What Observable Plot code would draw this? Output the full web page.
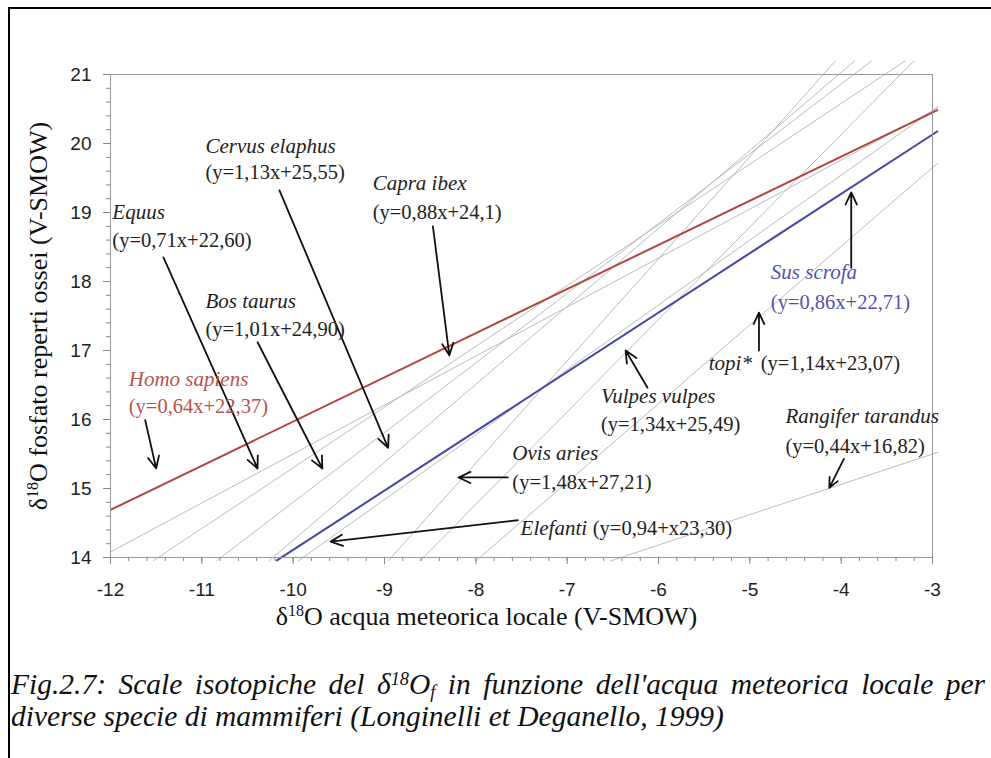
<!DOCTYPE html>
<html><head><meta charset="utf-8">
<script src="https://cdn.jsdelivr.net/npm/d3@7"></script>
<script src="https://cdn.jsdelivr.net/npm/@observablehq/plot@0.6"></script>
<style>
html,body{margin:0;padding:0;background:#fff;overflow:hidden;width:991px;height:758px;}
#page{position:relative;width:991px;height:758px;overflow:hidden;}
#border{position:absolute;left:8px;top:7px;width:1200px;height:900px;border-top:2px solid #000;border-left:2px solid #000;}
#chart{position:absolute;left:0;top:0;}
.cap{position:absolute;left:11px;font-family:"Liberation Serif","Times New Roman",serif;font-style:italic;font-size:29.5px;line-height:32px;color:#111;white-space:nowrap;}
.cap sup{font-size:0.62em;vertical-align:0.5em;line-height:0;}
.cap sub{font-size:0.62em;vertical-align:-0.2em;line-height:0;}
#cap1{top:668px;width:974px;text-align:justify;text-align-last:justify;}
#cap2{top:700px;}
</style></head>
<body><div id="page"><div id="border"></div><div id="chart"></div>
<div id="cap1" class="cap">Fig.2.7: Scale isotopiche del δ<sup>18</sup>O<sub>f</sub> in funzione dell'acqua meteorica locale per</div>
<div id="cap2" class="cap">diverse specie di mammiferi (Longinelli et Deganello, 1999)</div>
</div>
<script>
// ---- data ----
const species = ["Homo sapiens","Equus","Bos taurus","Cervus elaphus","Capra ibex","Sus scrofa","Ovis aries","Vulpes vulpes","Elefanti","topi*","Rangifer tarandus"];
const slopes = [0.64, 0.71, 1.01, 1.13, 0.88, 0.86, 1.48, 1.34, 0.94, 1.14, 0.44];
const intercepts = [22.37, 22.60, 24.90, 25.55, 24.1, 22.71, 27.21, 25.49, 23.30, 23.07, 16.82];
const equations = ["(y=0,64x+22,37)","(y=0,71x+22,60)","(y=1,01x+24,90)","(y=1,13x+25,55)","(y=0,88x+24,1)","(y=0,86x+22,71)","(y=1,48x+27,21)","(y=1,34x+25,49)","(y=0,94+x23,30)","(y=1,14x+23,07)","(y=0,44x+16,82)"];
const xTicks = [-12,-11,-10,-9,-8,-7,-6,-5,-4,-3];
const yTicks = [14,15,16,17,18,19,20,21];
const xLabel = "δ18O acqua meteorica locale (V-SMOW)";
const yLabel = "δ18O fosfato reperti ossei (V-SMOW)";

// annotation anchors (data units)
const nameX = [-11.80,-11.98,-10.96,-10.96,-9.13,-4.77,-7.60,-6.63,-7.51,-5.45,-4.61];
const nameY = [16.59, 19.00, 17.71, 19.96, 19.42, 18.13, 15.51, 16.33, 14.42, 16.81, 16.04];
const eqX   = [-11.80,-11.98,-10.96,-10.96,-9.13,-4.77,-7.60,-6.63,-6.72,-4.88,-4.61];
const eqY   = [16.19, 18.59, 17.30, 19.58, 19.00, 17.70, 15.09, 15.93, 14.42, 16.81, 15.61];
const arrowX1 = [-11.62,-11.42,-10.39,-10.15,-8.47,-3.89,-7.65,-6.12,-7.54,-4.90,-3.97];
const arrowY1 = [15.99, 18.35, 17.12, 19.32, 18.80, 18.20, 15.16, 16.46, 14.54, 17.00, 15.43];
const arrowX2 = [-11.50,-10.39,-9.68,-8.96,-8.29,-3.89,-8.19,-6.36,-9.59,-4.90,-4.13];
const arrowY2 = [15.29, 15.29, 15.29, 15.59, 16.93, 19.29, 15.16, 17.00, 14.23, 17.55, 15.01];

// ---- derived ----
const Y_MIN = 13.95, Y_MAX = 21.2, X_MIN = -12, X_MAX = -2.94;
const lines = species.map((s, i) => {
  const a = slopes[i], b = intercepts[i];
  const x1 = Math.max(X_MIN, (Y_MIN - b) / a);
  const x2 = Math.min(X_MAX, (Y_MAX - b) / a);
  return {s, x1, y1: a * x1 + b, x2, y2: a * x2 + b};
});
const RED = "#b3453b", BLUE = "#4545a6";
const gray = lines.filter(d => d.s !== "Homo sapiens" && d.s !== "Sus scrofa");
const red = lines.filter(d => d.s === "Homo sapiens");
const blue = lines.filter(d => d.s === "Sus scrofa");
const idx = species.map((_, i) => i);
const labelColor = i => species[i] === "Homo sapiens" ? "#b9524a" : species[i] === "Sus scrofa" ? "#5252ae" : "#222";
const minorX = d3.range(0, 46).map(i => -12 + i * 0.2);
const minorY = d3.range(0, 36).map(i => 14 + i * 0.2);
const SERIF = "Liberation Serif, Times New Roman, serif";

const chart = Plot.plot({
  width: 991, height: 640,
  marginLeft: 110, marginRight: 59, marginTop: 74, marginBottom: 83,
  x: {domain: [-12, -3], label: null},
  y: {domain: [14, 21], label: null},
  color: {type: "identity"},
  style: {background: "transparent", fontFamily: "Liberation Sans, Arial, sans-serif", overflow: "visible"},
  marks: [
    Plot.link(gray, {x1: "x1", y1: "y1", x2: "x2", y2: "y2", stroke: "#bcbcbc", strokeWidth: 1}),
    Plot.link(red, {x1: "x1", y1: "y1", x2: "x2", y2: "y2", stroke: RED, strokeWidth: 2}),
    Plot.link(blue, {x1: "x1", y1: "y1", x2: "x2", y2: "y2", stroke: BLUE, strokeWidth: 2}),
    Plot.frame({stroke: "#9a9a9a"}),
    Plot.axisX(minorX, {tickSize: 4, tickFormat: () => "", stroke: "#888", label: null}),
    Plot.axisX(xTicks, {tickSize: 7, tickPadding: 18, tickFormat: d => String(d), fontSize: 19, fill: "#222", stroke: "#888", label: null}),
    Plot.axisY(minorY, {tickSize: 4, tickFormat: () => "", stroke: "#888", label: null}),
    Plot.axisY(yTicks, {tickSize: 7, tickPadding: 12, tickFormat: d => String(d), fontSize: 19, fill: "#222", stroke: "#888", label: null}),
    Plot.arrow(idx, {x1: i => arrowX1[i], y1: i => arrowY1[i], x2: i => arrowX2[i], y2: i => arrowY2[i], stroke: "#111", strokeWidth: 1.8, headLength: 11, headAngle: 50}),
    Plot.text(idx, {x: i => nameX[i], y: i => nameY[i], text: i => species[i], textAnchor: "start", fontStyle: "italic", fontSize: 21, fontFamily: SERIF, fill: labelColor}),
    Plot.text(idx, {x: i => eqX[i], y: i => eqY[i], text: i => equations[i], textAnchor: "start", fontSize: 20.5, fontFamily: SERIF, fill: labelColor}),
    Plot.text([xLabel], {text: d => d, frameAnchor: "bottom", textAnchor: "middle", dx: -35, dy: 67, fontSize: 26, fontFamily: SERIF, fill: "#111"}),
    Plot.text([yLabel], {text: d => d, frameAnchor: "left", textAnchor: "middle", lineAnchor: "middle", dx: -72, rotate: -90, fontSize: 26, fontFamily: SERIF, fill: "#111"})
  ]
});

// superscript "18" in axis labels
const NS = "http://www.w3.org/2000/svg";
chart.querySelectorAll("text").forEach(t => {
  const s = t.textContent;
  if (s.startsWith("δ18O")) {
    t.textContent = "";
    const a = document.createElementNS(NS, "tspan"); a.textContent = "δ";
    const b = document.createElementNS(NS, "tspan"); b.textContent = "18";
    b.setAttribute("font-size", "16"); b.setAttribute("dy", "-9");
    const c = document.createElementNS(NS, "tspan"); c.textContent = s.slice(3);
    c.setAttribute("dy", "9");
    t.append(a, b, c);
  }
});
document.getElementById("chart").appendChild(chart);
</script>
</body></html>
